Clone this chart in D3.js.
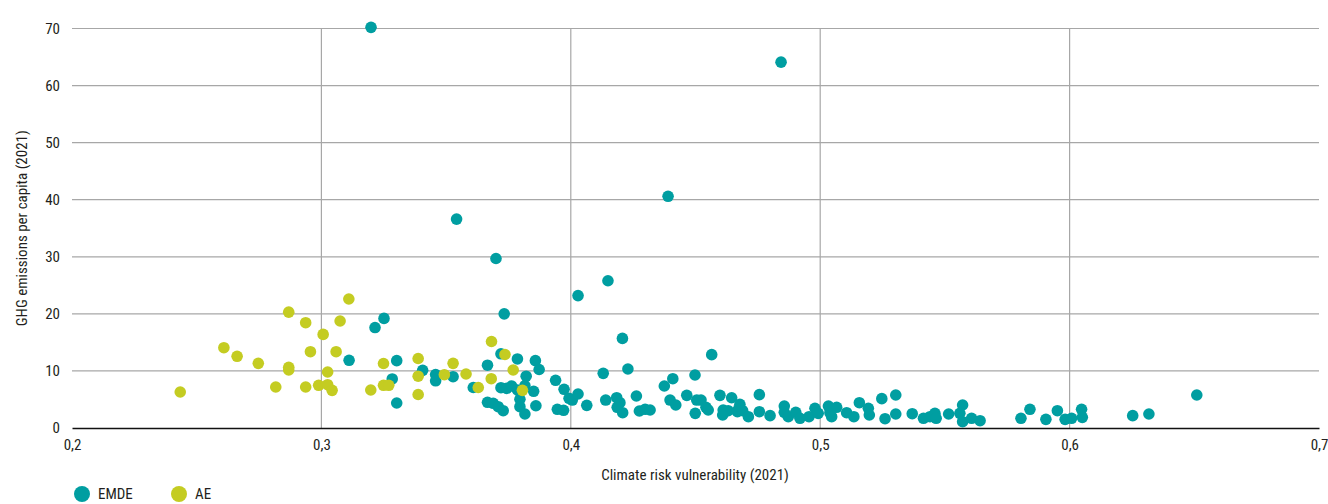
<!DOCTYPE html>
<html>
<head>
<meta charset="utf-8">
<script src="https://cdn.jsdelivr.net/npm/d3@7.9.0/dist/d3.min.js"></script>
<style>
  body { margin: 0; background: #fff; }
  svg text { font-family: "Liberation Sans Narrow", "Roboto Condensed", "Noto Sans", sans-serif; fill: #231f20; }
</style>
</head>
<body>
<svg id="chart" width="1328" height="504"></svg>
<script>
// climate risk vulnerability (x) vs GHG emissions per capita (y), 2021
const emde = [
  [0.3199, 70.2], [0.4843, 64.1], [0.439, 40.6], [0.3542, 36.6], [0.37, 29.7],
  [0.4149, 25.8], [0.4029, 23.2], [0.3733, 20.0], [0.3251, 19.2], [0.3215, 17.6],
  [0.4207, 15.7], [0.3666, 11.0], [0.372, 13.0], [0.3786, 12.1], [0.3858, 11.8],
  [0.3873, 10.25], [0.3821, 9.08], [0.3609, 7.1], [0.372, 7.06], [0.3743, 6.95],
  [0.3763, 7.36], [0.3786, 6.66], [0.3816, 7.41], [0.3851, 6.43], [0.3796, 5.03],
  [0.3666, 4.5], [0.3689, 4.33], [0.3709, 3.73], [0.3729, 3.03], [0.3796, 3.73],
  [0.3816, 2.45], [0.386, 3.9], [0.3406, 10.1], [0.3458, 9.37], [0.3458, 8.27],
  [0.3528, 8.99], [0.3284, 8.59], [0.3302, 4.38], [0.3302, 11.8], [0.3111, 11.86],
  [0.3939, 8.36], [0.3973, 6.78], [0.3993, 5.2], [0.4006, 4.9], [0.4029, 5.96],
  [0.4064, 3.97], [0.3946, 3.28], [0.3971, 3.1],
  [0.4229, 10.34], [0.413, 9.58], [0.414, 4.9], [0.4184, 5.31], [0.4197, 4.43],
  [0.4186, 3.63], [0.4208, 2.68], [0.4263, 5.61], [0.4275, 2.98], [0.4298, 3.28],
  [0.4318, 3.15], [0.4375, 7.36], [0.4409, 8.64], [0.4398, 4.9], [0.4421, 4.03],
  [0.4465, 5.72], [0.4498, 9.29], [0.4505, 4.9], [0.4522, 4.9], [0.4542, 3.63],
  [0.4499, 2.57], [0.4551, 3.15], [0.4565, 12.85], [0.4598, 5.72], [0.4645, 5.3],
  [0.4611, 3.15], [0.4631, 3.03], [0.4609, 2.28], [0.4672, 3.28],
  [0.4678, 4.15], [0.4668, 2.86], [0.4689, 3.03], [0.4712, 1.98], [0.4756, 5.84],
  [0.4756, 2.86], [0.4799, 2.16], [0.4856, 3.85], [0.4856, 2.75], [0.4872, 1.98],
  [0.4902, 2.75], [0.4919, 1.7], [0.4955, 1.98], [0.4979, 3.45], [0.4992, 2.57],
  [0.5033, 3.85], [0.5039, 2.68], [0.5046, 1.98], [0.5066, 3.63], [0.5106, 2.68],
  [0.5135, 1.98], [0.5157, 4.43], [0.5193, 3.45], [0.5197, 2.28], [0.5247, 5.14],
  [0.526, 1.63], [0.5303, 5.78], [0.5303, 2.45], [0.5369, 2.51], [0.5414, 1.7],
  [0.544, 1.98], [0.546, 2.57], [0.5465, 1.7], [0.5515, 2.45], [0.5571, 4.03],
  [0.556, 2.57], [0.5571, 1.1], [0.5607, 1.7], [0.5641, 1.28], [0.5805, 1.7],
  [0.5841, 3.28], [0.5905, 1.52], [0.5951, 3.03], [0.5982, 1.52], [0.6008, 1.7],
  [0.6048, 3.28], [0.6051, 1.87], [0.6253, 2.16], [0.6318, 2.45], [0.651, 5.78]
];

const ae = [
  [0.311, 22.6], [0.2869, 20.3], [0.2937, 18.45], [0.3075, 18.75], [0.3007, 16.4],
  [0.2609, 14.07], [0.2662, 12.56], [0.2956, 13.37], [0.3059, 13.37], [0.2747, 11.33],
  [0.2869, 10.63], [0.2869, 10.16], [0.3025, 9.81], [0.2434, 6.31], [0.2817, 7.18],
  [0.2937, 7.18], [0.2989, 7.48], [0.3025, 7.59], [0.3043, 6.6],
  [0.3249, 11.3], [0.3388, 12.18], [0.3388, 9.08], [0.3388, 5.87], [0.3249, 7.48],
  [0.327, 7.48], [0.3198, 6.66], [0.3528, 11.33], [0.3493, 9.34], [0.358, 9.46],
  [0.3682, 15.16], [0.3736, 12.88], [0.3769, 10.16], [0.3681, 8.64], [0.3629, 7.1],
  [0.3806, 6.6]
];

const xTicks = [0.2, 0.3, 0.4, 0.5, 0.6, 0.7];
const yTicks = [0, 10, 20, 30, 40, 50, 60, 70];
const series = [
  { name: "EMDE", data: emde, color: "#009ea1" },
  { name: "AE", data: ae, color: "#c4cc22" }
];

const svg = d3.select("#chart");
const x = d3.scaleLinear().domain([0.2, 0.7]).range([72, 1319]);
const y = d3.scaleLinear().domain([0, 70]).range([428, 28.5]);
const fmt = d => d3.format(".1f")(d).replace(".", ",");

// grid
svg.append("g").selectAll("line")
  .data(yTicks.filter(d => d > 0))
  .join("line")
  .attr("x1", x(0.2)).attr("x2", x(0.7))
  .attr("y1", d => y(d)).attr("y2", d => y(d))
  .attr("stroke", "#a7a7a7").attr("stroke-width", 1.2);

svg.append("g").selectAll("line")
  .data(xTicks.filter(d => d > 0.2 && d < 0.7))
  .join("line")
  .attr("x1", d => x(d)).attr("x2", d => x(d))
  .attr("y1", y(70)).attr("y2", y(0))
  .attr("stroke", "#a7a7a7").attr("stroke-width", 1.2);

// axes
const xAxis = svg.append("g")
  .attr("transform", `translate(0,${y(0)})`)
  .call(d3.axisBottom(x).tickValues(xTicks).tickFormat(fmt).tickSize(0).tickPadding(11));
const yAxis = svg.append("g")
  .attr("transform", `translate(${x(0.2)},0)`)
  .call(d3.axisLeft(y).tickValues(yTicks).tickSize(0).tickPadding(12));
yAxis.select(".domain").remove();
xAxis.select(".domain").attr("stroke", "#111").attr("stroke-width", 1.6);
svg.selectAll(".tick text").attr("font-size", 15).attr("fill", "#231f20")
  .style("font-family", '"Liberation Sans Narrow", "Roboto Condensed", "Noto Sans", sans-serif');

// points
series.forEach(s => {
  svg.append("g").selectAll("circle")
    .data(s.data)
    .join("circle")
    .attr("cx", d => x(d[0]))
    .attr("cy", d => y(d[1]))
    .attr("r", 5.8)
    .attr("fill", s.color);
});

// axis titles
svg.append("text")
  .attr("x", 695).attr("y", 480)
  .attr("text-anchor", "middle").attr("font-size", 15)
  .text("Climate risk vulnerability (2021)");
svg.append("text")
  .attr("transform", `translate(27,${y(35)}) rotate(-90)`)
  .attr("text-anchor", "middle").attr("font-size", 15)
  .text("GHG emissions per capita (2021)");

// legend
const legend = svg.append("g").attr("transform", "translate(82,494)");
series.forEach((s, i) => {
  const g = legend.append("g").attr("transform", `translate(${i * 97},0)`);
  g.append("circle").attr("r", 8).attr("fill", s.color);
  g.append("text").attr("x", 16).attr("y", 5).attr("font-size", 15).text(s.name);
});
</script>
</body>
</html>
